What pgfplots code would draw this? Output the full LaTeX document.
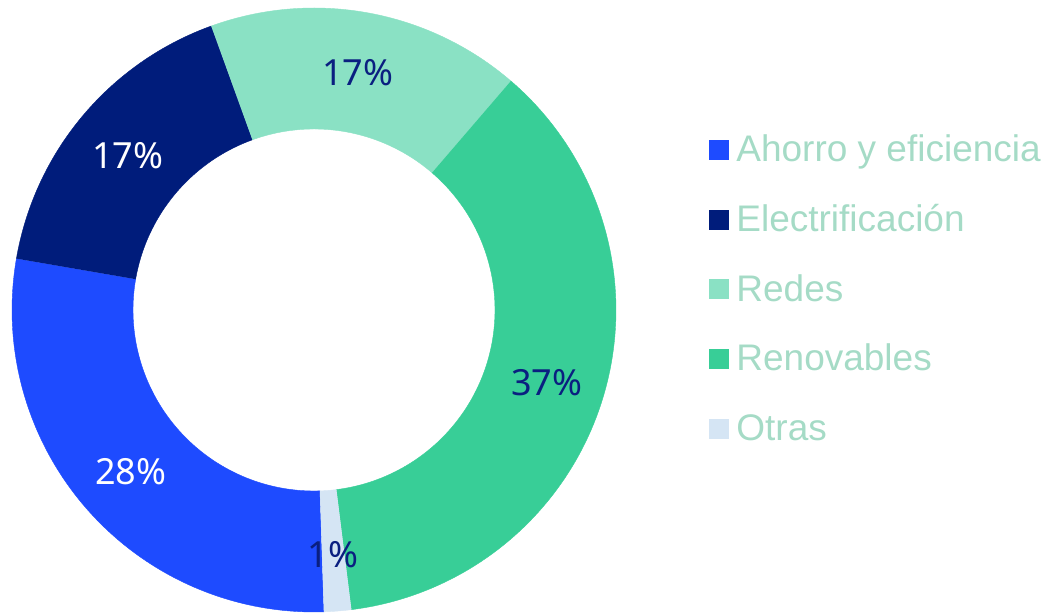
\documentclass[border=0pt]{standalone}
\usepackage{pgfplots}
\pgfplotsset{compat=1.18}
\usepackage{fontspec}
\setmainfont{Liberation Sans}
\newfontfamily\notofont{Noto Sans}
\definecolor{cAhorro}{HTML}{1E4BFF}
\definecolor{cElec}{HTML}{001C7B}
\definecolor{cRedes}{HTML}{8AE1C4}
\definecolor{cRenov}{HTML}{38CE97}
\definecolor{cOtras}{HTML}{D5E5F4}
\definecolor{cLabel}{HTML}{0A1F80}
\definecolor{legendtext}{HTML}{A5DBC6}
\newcommand\pctfont{\notofont\fontsize{36}{40}\selectfont}
\newcommand\legfont{\fontsize{37}{40}\selectfont}
% geometry of the donut (axis units = px of the reference)
\def\cx{314}\def\cy{301}\def\Ro{302}\def\Ri{181}\def\Rl{243}
\def\startang{-88.1}
\gdef\cum{0}
% #1 share (%), #2 fill colour, #3 legend text, #4 label colour, #5 label
\newcommand\donutslice[5]{%
  \pgfmathsetmacro\sA{\startang-3.6*\cum}%
  \pgfmathsetmacro\sB{\startang-3.6*(\cum+#1)}%
  \pgfmathsetmacro\sM{(\sA+\sB)/2}%
  \pgfmathsetmacro\lx{\cx+\Rl*cos(\sM)}%
  \pgfmathsetmacro\ly{\cy+\Rl*sin(\sM)-2}%
  \pgfmathsetmacro\newcum{\cum+#1}\xdef\cum{\newcum}%
  \edef\temp{%
    \noexpand\addplot[fill=#2, draw=#2, line width=0.4pt, samples at={0,...,201}, variable=\noexpand\t]
    ({\cx+ifthenelse(\noexpand\t<=100,\Ro,\Ri)*cos(ifthenelse(\noexpand\t<=100,(\sA)+((\sB)-(\sA))*\noexpand\t/100,(\sB)+((\sA)-(\sB))*(\noexpand\t-101)/100))},
     {\cy+ifthenelse(\noexpand\t<=100,\Ro,\Ri)*sin(ifthenelse(\noexpand\t<=100,(\sA)+((\sB)-(\sA))*\noexpand\t/100,(\sB)+((\sA)-(\sB))*(\noexpand\t-101)/100))});
    \noexpand\addlegendentry{#3}
    \noexpand\node[text=#4, font=\noexpand\pctfont, inner sep=0pt] at (axis cs:\lx,\ly) {#5};
  }\temp}
\begin{document}
\begin{tikzpicture}
\begin{axis}[
  scale only axis, width=1048pt, height=611pt,
  xmin=0, xmax=1048, ymin=0, ymax=611,
  hide axis, clip=false,
  legend cell align=left,
  legend image code/.code={\fill[#1] (0pt,-9.5pt) rectangle (19pt,9.5pt);},
  legend style={at={(axis cs:709,479)}, anchor=north west, draw=none, fill=none,
    inner sep=0pt, outer sep=0pt, row sep=33.6pt, column sep=8pt,
    font=\legfont, text=legendtext,
    nodes={inner sep=0pt, text height=30pt, text depth=6pt}},
]
\path (rel axis cs:0,0) rectangle (rel axis cs:1,1);
\donutslice{28.25}{cAhorro}{Ahorro y eficiencia}{white}{28\%}
\donutslice{16.75}{cElec}{Electrificación}{white}{17\%}
\donutslice{16.83}{cRedes}{Redes}{cLabel}{17\%}
\donutslice{36.72}{cRenov}{Renovables}{cLabel}{37\%}
\donutslice{1.45}{cOtras}{Otras}{cLabel}{1\%}
\end{axis}
\end{tikzpicture}
\end{document}
